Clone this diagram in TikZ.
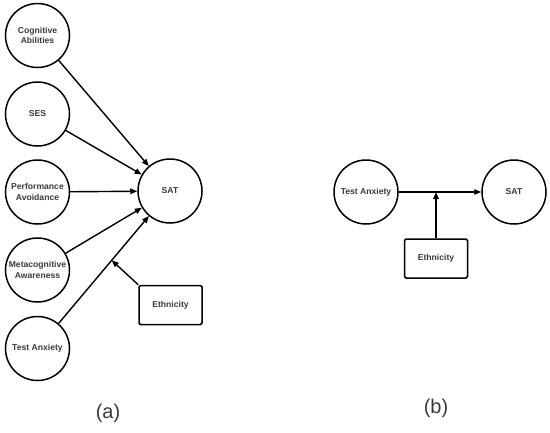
\documentclass[tikz,border=0pt]{standalone}
\usepackage{fontspec}
\setmainfont{Liberation Sans}
\usetikzlibrary{arrows.meta,calc}
\definecolor{txt}{HTML}{3A3A3A}
\begin{document}
\begin{tikzpicture}[x=1pt,y=-1pt,
  var/.style={circle,draw=black,line width=1.5pt,minimum size=64pt,inner sep=0pt,
    font=\fontsize{8.6}{10.5}\selectfont\bfseries,text=txt,align=center},
  boxnode/.style={draw=black,line width=1.5pt,rounded corners=1.5pt,minimum width=63pt,minimum height=39pt,
    font=\fontsize{8.6}{10.5}\selectfont\bfseries,text=txt},
  conn/.style={line width=1.4pt,-{Triangle[length=7pt,width=5.5pt]}},
  panellabel/.style={font=\fontsize{20}{24}\selectfont,text=txt}]
\useasboundingbox (0,0) rectangle (550,432);
% panel (a)
\node[var] (cog) at (37.5,35.5) {Cognitive\\Abilities};
\node[var] (ses) at (37.5,114) {SES};
\node[var] (perf) at (37.5,192) {Performance\\Avoidance};
\node[var] (meta) at (37.5,270) {Metacognitive\\Awareness};
\node[var] (ta) at (37.5,348.5) {Test Anxiety};
\node[var] (sat) at (170,191) {SAT};
\node[boxnode] (eth) at (170.5,305) {Ethnicity};
\draw[conn] (cog) -- (sat);
\draw[conn] (ses) -- (sat);
\draw[conn] (perf) -- (sat);
\draw[conn] (meta) -- (sat);
\draw[conn] (ta) -- (sat);
\coordinate (mod) at ($(ta)!0.56!(sat)$);
\draw[conn] (eth.north west) -- (mod);
\node[panellabel] (la) at (108,413) {(a)};
% panel (b)
\node[var] (ta2) at (366,192) {Test Anxiety};
\node[var] (sat2) at (514,192) {SAT};
\node[boxnode] (eth2) at (436,258.5) {Ethnicity};
\draw[conn] (ta2) -- (sat2);
\draw[conn,line width=1.8pt] (eth2.north) -- (eth2.north |- ta2);
\node[panellabel] (lb) at (436,408) {(b)};
\end{tikzpicture}
\end{document}
